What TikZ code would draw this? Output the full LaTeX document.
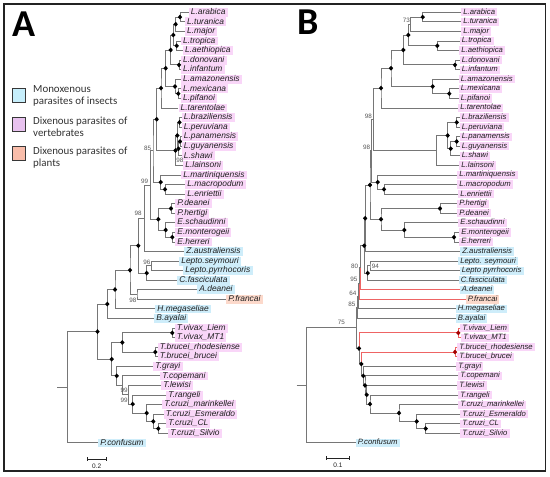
\documentclass[tikz,border=0pt]{standalone}
\usepackage{fontspec}
\setmainfont{Liberation Sans}
\newfontfamily\carlito{Carlito}
\usetikzlibrary{shapes.geometric}
\definecolor{tg}{RGB}{118,118,118}
\definecolor{rl}{RGB}{238,100,100}
\definecolor{pk}{RGB}{249,214,248}
\definecolor{lb}{RGB}{206,237,250}
\definecolor{sa}{RGB}{252,217,203}
\definecolor{sqb}{RGB}{198,238,251}
\definecolor{sqp}{RGB}{232,194,239}
\definecolor{sqs}{RGB}{249,189,170}
\definecolor{fr}{RGB}{35,35,35}
\definecolor{txt}{RGB}{30,30,30}
\definecolor{bs}{RGB}{85,85,85}
\definecolor{sqd}{RGB}{55,55,55}
\definecolor{lgt}{RGB}{50,50,50}
\newcommand\lfA{\fontsize{8.4}{9}\selectfont\itshape}
\newcommand\lfB{\fontsize{7.7}{8.5}\selectfont\itshape}
\tikzset{
 br/.style={draw=tg, line width=0.95pt},
 rbr/.style={draw=rl, line width=0.95pt},
 dm/.style={diamond, fill=black, inner sep=0pt, minimum width=4.6pt, minimum height=5pt},
 rdm/.style={dm, fill=red!65!black},
 leafA/.style={anchor=west, inner xsep=2.2pt, inner ysep=0.4pt, text height=6.2pt, text depth=1.9pt, font=\lfA, text=txt},
 leafB/.style={anchor=west, inner xsep=2.2pt, inner ysep=0.4pt, text height=5.7pt, text depth=1.75pt, font=\lfB, text=txt},
 bsl/.style={font=\fontsize{6.3}{7}\selectfont, text=bs, inner sep=0pt, anchor=east},
 legsq/.style={draw=sqd, line width=1.2pt, minimum width=13pt, minimum height=14pt, inner sep=0pt},
 legt/.style={anchor=base west, inner sep=0pt, font=\carlito\fontsize{10.9}{12}\selectfont, text=lgt},
 panel/.style={anchor=base west, inner sep=0pt, font=\carlito\bfseries\fontsize{38}{40}\selectfont},
 sbar/.style={draw=fr, line width=0.7pt},
 sbt/.style={font=\fontsize{6.5}{7}\selectfont, text=txt, inner sep=0pt},
}
\newcommand\lfa[5]{\node[leafA,fill=#4] (lA#1) at (#2,#3) {#5};}
\newcommand\lfb[5]{\node[leafB,fill=#4] (lB#1) at (#2,#3) {#5};}
\newcommand\kids[4][br]{\draw[#1] (#3) -| (#2) |- (#4);}
\newcommand\kid[3][br]{\draw[#1] (#2) |- (#3);}
\begin{document}
\begin{tikzpicture}[x=1pt,y=-1pt]
\useasboundingbox (0,0) rectangle (550,477);
\draw[fr, line width=1.8pt] (4,3.6) rectangle (545.5,471.3);
% ---------------- legend
\node[panel] (pA) at (12.5,36) {A};
\node[panel] (pB) at (297.5,34.5) {B};
\node[legsq, fill=sqb] (sq1) at (19.3,95.2) {};
\node[legsq, fill=sqp] (sq2) at (19.3,124.8) {};
\node[legsq, fill=sqs] (sq3) at (19.3,153.8) {};
\node[legt] (t1a) at (33,92.8) {Monoxenous};
\node[legt] (t1b) at (33,104.8) {parasites of insects};
\node[legt] (t2a) at (33,124.8) {Dixenous parasites of};
\node[legt] (t2b) at (33,136.8) {vertebrates};
\node[legt] (t3a) at (33,154) {Dixenous parasites of};
\node[legt] (t3b) at (33,166.3) {plants};
% ---------------- leaves A
\lfa{1}{188.5}{12.3}{pk}{L.arabica}
\lfa{2}{184.8}{21.87}{pk}{L.turanica}
\lfa{3}{184.8}{31.44}{pk}{L.major}
\lfa{4}{180.8}{41.01}{pk}{L.tropica}
\lfa{5}{182.8}{50.58}{pk}{L.aethiopica}
\lfa{6}{180.8}{60.15}{pk}{L.donovani}
\lfa{7}{180.8}{69.72}{pk}{L.infantum}
\lfa{8}{180.8}{79.29}{pk}{L.amazonensis}
\lfa{9}{180.8}{88.86}{pk}{L.mexicana}
\lfa{10}{180.8}{98.43}{pk}{L.pifanoi}
\lfa{11}{178.3}{108.0}{pk}{L.tarentolae}
\lfa{12}{181.5}{117.57}{pk}{L.braziliensis}
\lfa{13}{181.5}{127.14}{pk}{L.peruviana}
\lfa{14}{181.5}{136.71}{pk}{L.panamensis}
\lfa{15}{181.5}{146.28}{pk}{L.guyanensis}
\lfa{16}{181.5}{155.85}{pk}{L.shawi}
\lfa{17}{183}{165.42}{pk}{L.lainsoni}
\lfa{18}{181}{174.99}{pk}{L.martiniquensis}
\lfa{19}{185}{184.56}{pk}{L.macropodum}
\lfa{20}{185}{194.13}{pk}{L.enriettii}
\lfa{21}{175}{203.7}{pk}{P.deanei}
\lfa{22}{175}{213.27}{pk}{P.hertigi}
\lfa{23}{175}{222.84}{pk}{E.schaudinni}
\lfa{24}{175}{232.41}{pk}{E.monterogeii}
\lfa{25}{175}{241.98}{pk}{E.herreri}
\lfa{26}{184}{251.55}{lb}{Z.australiensis}
\lfa{27}{179}{261.12}{lb}{Lepto.seymouri}
\lfa{28}{183}{270.69}{lb}{Lepto.pyrrhocoris}
\lfa{29}{177}{280.26}{lb}{C.fasciculata}
\lfa{30}{197}{289.83}{lb}{A.deanei}
\lfa{31}{226}{299.4}{sa}{P.francai}
\lfa{32}{155}{308.97}{lb}{H.megaseliae}
\lfa{33}{154}{318.54}{lb}{B.ayalai}
\lfa{34}{174.5}{328.11}{pk}{T.vivax\_Liem}
\lfa{35}{174.5}{337.68}{pk}{T.vivax\_MT1}
\lfa{36}{157.5}{347.25}{pk}{T.brucei\_rhodesiense}
\lfa{37}{157.5}{356.82}{pk}{T.brucei\_brucei}
\lfa{38}{153}{366.39}{pk}{T.grayi}
\lfa{39}{160}{375.96}{pk}{T.copemani}
\lfa{40}{161}{385.53}{pk}{T.lewisi}
\lfa{41}{166}{395.1}{pk}{T.rangeli}
\lfa{42}{162}{404.67}{pk}{T.cruzi\_marinkellei}
\lfa{43}{163.5}{414.24}{pk}{T.cruzi\_Esmeraldo}
\lfa{44}{166}{423.81}{pk}{T.cruzi\_CL}
\lfa{45}{168}{433.38}{pk}{T.cruzi\_Silvio}
\lfa{46}{98}{442.95}{lb}{P.confusum}
% ---------------- internal nodes A
\coordinate (aAT) at (180,17.09);
\coordinate (aATM) at (175.7,24.26);
\coordinate (aTA) at (176.7,45.80);
\coordinate (aATMTA) at (173.3,35.03);
\coordinate (aDI) at (179,64.94);
\coordinate (aG1) at (170.7,49.98);
\coordinate (aMP) at (178.3,93.65);
\coordinate (aAM) at (175,86.47);
\coordinate (aLL) at (165.7,68.23);
\coordinate (aLT) at (161,88.11);
\coordinate (aBP) at (179.5,122.36);
\coordinate (aPG) at (180,141.50);
\coordinate (aPGS) at (178.5,148.67);
\coordinate (aBPPGS) at (177.3,135.51);
\coordinate (aVi) at (175.5,150.47);
\coordinate (aLV) at (156.7,119.29);
\coordinate (aME) at (165,189.35);
\coordinate (aMu) at (160.7,182.17);
\coordinate (aL85) at (153,150.73);
\coordinate (aPo) at (171,208.49);
\coordinate (aMH) at (172.3,237.20);
\coordinate (aEn) at (165.7,230.02);
\coordinate (aPE) at (158.3,219.26);
\coordinate (aL99) at (150.5,185.0);
\coordinate (aLZ) at (144.3,218.28);
\coordinate (aLe) at (151.7,265.91);
\coordinate (aLC) at (146.7,273.08);
\coordinate (aX4) at (138.3,245.68);
\coordinate (aX5) at (137,294.62);
\coordinate (aX3) at (130,270.15);
\coordinate (aX2) at (115,289.56);
\coordinate (aX1) at (107.3,304.05);
\coordinate (aVv) at (172.3,332.90);
\coordinate (aBr) at (155.3,352.03);
\coordinate (aVB) at (122.3,342.46);
\coordinate (aC3) at (158.3,428.60);
\coordinate (aC2) at (153.3,421.42);
\coordinate (aC1) at (146.7,413.05);
\coordinate (aT5) at (132.7,404.07);
\coordinate (aT4) at (128.3,394.80);
\coordinate (aT3) at (122.5,385.38);
\coordinate (aT2) at (116.7,375.88);
\coordinate (aT) at (111.7,359.17);
\coordinate (aIN) at (97.5,331.61);
\coordinate (aR) at (67.5,387.28);
\coordinate (aRs) at (57,387.28);
% ---------------- branches A
\kids{aAT}{lA1.west}{lA2.west}
\kids{aATM}{aAT}{lA3.west}
\kids{aTA}{lA4.west}{lA5.west}
\kids{aATMTA}{aATM}{aTA}
\kids{aDI}{lA6.west}{lA7.west}
\kids{aG1}{aATMTA}{aDI}
\kids{aMP}{lA9.west}{lA10.west}
\kids{aAM}{lA8.west}{aMP}
\kids{aLL}{aG1}{aAM}
\kids{aLT}{aLL}{lA11.west}
\kids{aBP}{lA12.west}{lA13.west}
\kids{aPG}{lA14.west}{lA15.west}
\kids{aPGS}{aPG}{lA16.west}
\kids{aBPPGS}{aBP}{aPGS}
\kids{aVi}{aBPPGS}{lA17.west}
\kids{aLV}{aLT}{aVi}
\kids{aME}{lA19.west}{lA20.west}
\kids{aMu}{lA18.west}{aME}
\kids{aL85}{aLV}{aMu}
\kids{aPo}{lA21.west}{lA22.west}
\kids{aMH}{lA24.west}{lA25.west}
\kids{aEn}{lA23.west}{aMH}
\kids{aPE}{aPo}{aEn}
\kids{aL99}{aL85}{aPE}
\kids{aLZ}{aL99}{lA26.west}
\kids{aLe}{lA27.west}{lA28.west}
\kids{aLC}{aLe}{lA29.west}
\kids{aX4}{aLZ}{aLC}
\kids{aX5}{lA30.west}{lA31.west}
\kids{aX3}{aX4}{aX5}
\kids{aX2}{aX3}{lA32.west}
\kids{aX1}{aX2}{lA33.west}
\kids{aVv}{lA34.west}{lA35.west}
\kids{aBr}{lA36.west}{lA37.west}
\kids{aVB}{aVv}{aBr}
\kids{aC3}{lA44.west}{lA45.west}
\kids{aC2}{lA43.west}{aC3}
\kids{aC1}{lA42.west}{aC2}
\kids{aT5}{lA41.west}{aC1}
\kids{aT4}{lA40.west}{aT5}
\kids{aT3}{lA39.west}{aT4}
\kids{aT2}{lA38.west}{aT3}
\kids{aT}{aVB}{aT2}
\kids{aIN}{aX1}{aT}
\kids{aR}{aIN}{lA46.west}
\draw[br] (aRs) -- (aR);
\foreach \n in {aAT,aATM,aTA,aATMTA,aDI,aG1,aMP,aAM,aLL,aLT,aLV,aBP,aPG,aPGS,aBPPGS,aVi,aMu,aME,aPo,aPE,aEn,aMH,aX4,aLC,aX3,aX2,aX1,aIN,aT,aVB,aVv,aBr,aT2,aT5,aC1,aC2,aC3}
  \node[dm] (d\n) at (\n) {};
\node[bsl] (sA1) at (151.3,148.3) {85};
\node[bsl] (sA2) at (148.3,181.7) {99};
\node[bsl] (sA3) at (141.8,213.3) {98};
\node[bsl, anchor=west] (sA4) at (176.2,160.6) {98};
\node[bsl] (sA5) at (150.5,262.5) {96};
\node[bsl] (sA6) at (136.5,300) {98};
\node[bsl] (sA7) at (127.8,390.7) {99};
\node[bsl] (sA8) at (127.8,400) {99};
% scale bar A
\coordinate (sa1) at (87.3,459.3);
\coordinate (sa2) at (106,459.3);
\draw[sbar] (sa1) -- (sa2);
\draw[sbar] ([yshift=2pt]sa1) -- ([yshift=-2pt]sa1);
\draw[sbar] ([yshift=2pt]sa2) -- ([yshift=-2pt]sa2);
\node[sbt] (sat) at (96.7,466.3) {0.2};
% ---------------- leaves B
\lfb{1}{461}{12.3}{pk}{L.arabica}
\lfb{2}{461}{21.87}{pk}{L.turanica}
\lfb{3}{461}{31.44}{pk}{L.major}
\lfb{4}{459.5}{41.01}{pk}{L.tropica}
\lfb{5}{459}{50.58}{pk}{L.aethiopica}
\lfb{6}{459.5}{60.15}{pk}{L.donovani}
\lfb{7}{459.5}{69.72}{pk}{L.infantum}
\lfb{8}{458.5}{79.29}{pk}{L.amazonensis}
\lfb{9}{458.5}{88.86}{pk}{L.mexicana}
\lfb{10}{458.5}{98.43}{pk}{L.pifanoi}
\lfb{11}{458}{108.0}{pk}{L.tarentolae}
\lfb{12}{459.5}{117.57}{pk}{L.braziliensis}
\lfb{13}{459.5}{127.14}{pk}{L.peruviana}
\lfb{14}{459.5}{136.71}{pk}{L.panamensis}
\lfb{15}{459.5}{146.28}{pk}{L.guyanensis}
\lfb{16}{459.5}{155.85}{pk}{L.shawi}
\lfb{17}{459}{165.42}{pk}{L.lainsoni}
\lfb{18}{457}{174.99}{pk}{L.martiniquensis}
\lfb{19}{457}{184.56}{pk}{L.macropodum}
\lfb{20}{458}{194.13}{pk}{L.enriettii}
\lfb{21}{457}{203.7}{pk}{P.hertigi}
\lfb{22}{457}{213.27}{pk}{P.deanei}
\lfb{23}{458}{222.84}{pk}{E.schaudinni}
\lfb{24}{459}{232.41}{pk}{E.monterogeii}
\lfb{25}{459}{241.98}{pk}{E.herreri}
\lfb{26}{460}{251.55}{lb}{Z.australiensis}
\lfb{27}{458}{261.12}{lb}{Lepto. seymouri}
\lfb{28}{459.5}{270.69}{lb}{Lepto pyrrhocoris}
\lfb{29}{458.5}{280.26}{lb}{C.fasciculata}
\lfb{30}{459.5}{289.83}{lb}{A.deanei}
\lfb{31}{465.5}{299.4}{sa}{P.francai}
\lfb{32}{455.5}{308.97}{lb}{H.megaseliae}
\lfb{33}{455.5}{318.54}{lb}{B.ayalai}
\lfb{34}{460}{328.11}{pk}{T.vivax\_Liem}
\lfb{35}{461}{337.68}{pk}{T.vivax\_MT1}
\lfb{36}{457}{347.25}{pk}{T.brucei\_rhodesiense}
\lfb{37}{457}{356.82}{pk}{T.brucei\_brucei}
\lfb{38}{456}{366.39}{pk}{T.grayi}
\lfb{39}{458}{375.96}{pk}{T.copemani}
\lfb{40}{457}{385.53}{pk}{T.lewisi}
\lfb{41}{458}{395.1}{pk}{T.rangeli}
\lfb{42}{458}{404.67}{pk}{T.cruzi\_marinkellei}
\lfb{43}{460}{414.24}{pk}{T.cruzi\_Esmeraldo}
\lfb{44}{460}{423.81}{pk}{T.cruzi\_CL}
\lfb{45}{460}{433.38}{pk}{T.cruzi\_Silvio}
\lfb{46}{355.5}{442.95}{lb}{P.confusum}
% ---------------- internal nodes B
\coordinate (bAT) at (422.7,17.09);
\coordinate (bATM) at (410.5,24.26);
\coordinate (bTA) at (437.3,45.80);
\coordinate (bATMTA) at (408.3,35.03);
\coordinate (bDI) at (455,64.94);
\coordinate (bG1) at (403.3,49.98);
\coordinate (bMP) at (449.3,93.65);
\coordinate (bAM) at (432.7,86.47);
\coordinate (bLL) at (391,68.23);
\coordinate (bLT) at (381,88.11);
\coordinate (bBP) at (456.7,122.36);
\coordinate (bPG) at (456.7,141.50);
\coordinate (bPGS) at (450.7,148.67);
\coordinate (bBPPGS) at (447.7,135.51);
\coordinate (bVi) at (436.7,150.47);
\coordinate (bLV) at (373.5,119.29);
\coordinate (bME) at (384,189.35);
\coordinate (bMu) at (377.7,182.17);
\coordinate (bX) at (371.5,150.73);
\coordinate (bPo) at (440,208.49);
\coordinate (bMH) at (454,237.20);
\coordinate (bEn) at (404.3,230.02);
\coordinate (bPE) at (381,219.26);
\coordinate (bL99) at (370,185.0);
\coordinate (bLZ) at (365.2,218.28);
\coordinate (bLe) at (370,265.91);
\coordinate (bLC) at (367.7,273.08);
\coordinate (bX4) at (364.2,245.68);
\coordinate (bN80) at (360,267.76);
\coordinate (bN95) at (359.2,283.58);
\coordinate (bN64) at (358.4,296.28);
\coordinate (bN85) at (357.6,307.41);
\coordinate (bVv) at (458.3,332.90);
\coordinate (bBr) at (455,352.03);
\coordinate (bC3) at (425.7,428.60);
\coordinate (bC2) at (416.7,421.42);
\coordinate (bC1) at (399,413.05);
\coordinate (bT5) at (370,404.07);
\coordinate (bT4) at (366.7,394.80);
\coordinate (bT3) at (365,385.38);
\coordinate (bT2) at (363.3,375.88);
\coordinate (bT1) at (361.3,363.96);
\coordinate (bT0) at (359,348.43);
\coordinate (bIN) at (356.7,327.92);
\coordinate (bR) at (306.7,385.44);
\coordinate (bRs) at (296.7,385.44);
% ---------------- branches B
\kids{bAT}{lB1.west}{lB2.west}
\kids{bATM}{bAT}{lB3.west}
\kids{bTA}{lB4.west}{lB5.west}
\kids{bATMTA}{bATM}{bTA}
\kids{bDI}{lB6.west}{lB7.west}
\kids{bG1}{bATMTA}{bDI}
\kids{bMP}{lB9.west}{lB10.west}
\kids{bAM}{lB8.west}{bMP}
\kids{bLL}{bG1}{bAM}
\kids{bLT}{bLL}{lB11.west}
\kids{bBP}{lB12.west}{lB13.west}
\kids{bPG}{lB14.west}{lB15.west}
\kids{bPGS}{bPG}{lB16.west}
\kids{bBPPGS}{bBP}{bPGS}
\kids{bVi}{bBPPGS}{lB17.west}
\kids{bLV}{bLT}{bVi}
\kids{bME}{lB19.west}{lB20.west}
\kids{bMu}{lB18.west}{bME}
\kids{bX}{bLV}{bMu}
\kids{bPo}{lB21.west}{lB22.west}
\kids{bMH}{lB24.west}{lB25.west}
\kids{bEn}{lB23.west}{bMH}
\kids{bPE}{bPo}{bEn}
\kids{bL99}{bX}{bPE}
\kids{bLZ}{bL99}{lB26.west}
\kids{bLe}{lB27.west}{lB28.west}
\kids{bLC}{bLe}{lB29.west}
\kids{bX4}{bLZ}{bLC}
\kid{bN80}{bX4}
\kid{bN95}{bN80}
\kids{bN64}{bN95}{lB32.west}
\kids{bN85}{bN64}{lB33.west}
\kids{bC3}{lB44.west}{lB45.west}
\kids{bC2}{lB43.west}{bC3}
\kids{bC1}{lB42.west}{bC2}
\kids{bT5}{lB41.west}{bC1}
\kids{bT4}{lB40.west}{bT5}
\kids{bT3}{lB39.west}{bT4}
\kids{bT2}{lB38.west}{bT3}
\kid{bT1}{bT2}
\kid{bT0}{bT1}
\kids{bIN}{bN85}{bT0}
\kids{bR}{bIN}{lB46.west}
\draw[br] (bRs) -- (bR);
% red branches
\kid[rbr]{bN80}{lB30.west}
\kid[rbr]{bN95}{lB31.west}
\kid[rbr]{bT0}{bVv}
\kid[rbr]{bT1}{bBr}
\kids[rbr]{bVv}{lB34.west}{lB35.west}
\kids[rbr]{bBr}{lB36.west}{lB37.west}
\foreach \n in {bAT,bATMTA,bTA,bDI,bG1,bAM,bMP,bLL,bLT,bBP,bPG,bPGS,bBPPGS,bMu,bME,bL99,bPo,bPE,bEn,bMH,bLZ,bX4,bLC,bT0,bT1,bT2,bT3,bT4,bT5,bC1,bC2,bC3}
  \node[dm] (d\n) at (\n) {};
\node[rdm] (dbVv) at (bVv) {};
\node[rdm] (dbBr) at (bBr) {};
\node[bsl] (sB1) at (410,20.7) {73};
\node[bsl] (sB2) at (372,116) {98};
\node[bsl] (sB3) at (370.3,147.5) {98};
\node[bsl, anchor=west] (sB4) at (371.6,265.9) {94};
\node[bsl] (sB5) at (358.3,266) {80};
\node[bsl] (sB6) at (357.7,279.5) {95};
\node[bsl] (sB7) at (356.7,293.5) {64};
\node[bsl] (sB8) at (355.7,304.5) {85};
\node[bsl] (sB9) at (345,322.7) {75};
% scale bar B
\coordinate (sb1) at (326.7,458.3);
\coordinate (sb2) at (349,458.3);
\draw[sbar] (sb1) -- (sb2);
\draw[sbar] ([yshift=2pt]sb1) -- ([yshift=-2pt]sb1);
\draw[sbar] ([yshift=2pt]sb2) -- ([yshift=-2pt]sb2);
\node[sbt] (sbt1) at (338,465.3) {0.1};
\end{tikzpicture}
\end{document}
